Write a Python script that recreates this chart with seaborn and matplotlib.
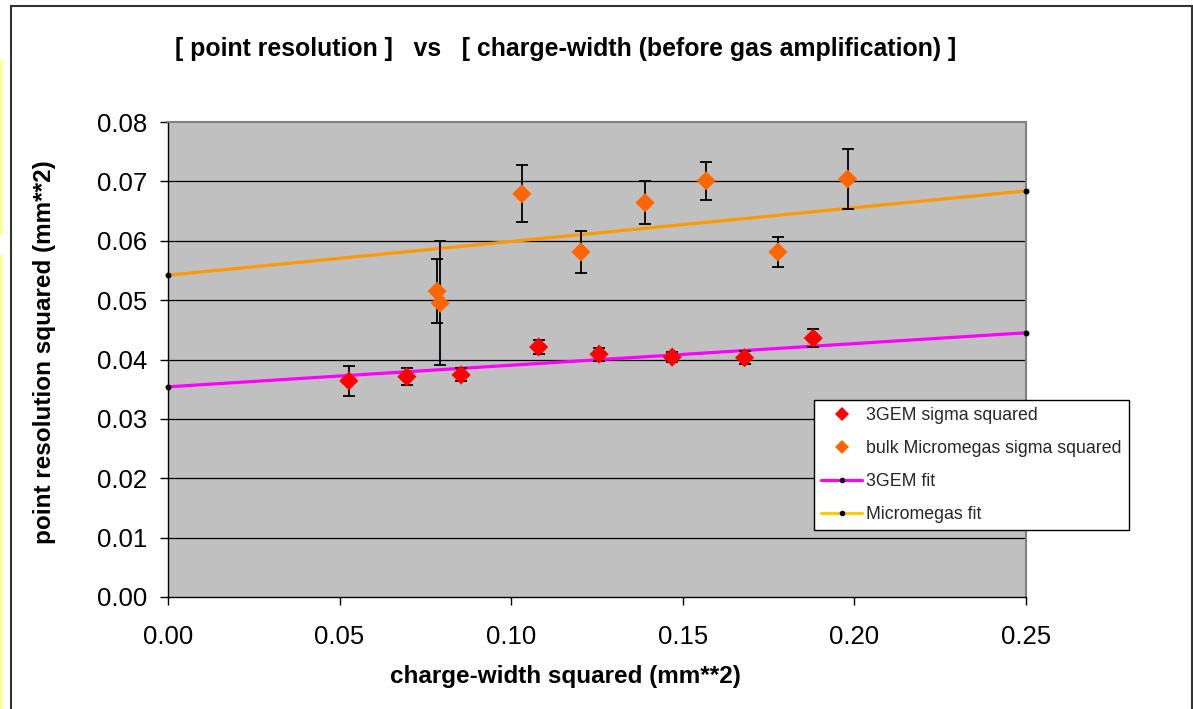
import numpy as np
import pandas as pd
import seaborn as sns
import matplotlib
matplotlib.use("Agg")
import matplotlib.pyplot as plt
from matplotlib.lines import Line2D
from matplotlib.patches import Rectangle
from matplotlib.ticker import FormatStrFormatter

# ---------------- data ----------------
gem_x = [0.0527, 0.0696, 0.0854, 0.1080, 0.1256, 0.1469, 0.1680, 0.1880]
gem_y = [0.0364, 0.0371, 0.0374, 0.0421, 0.0409, 0.0404, 0.0403, 0.0436]
gem_err = [0.0025, 0.0014, 0.0011, 0.0012, 0.0011, 0.0009, 0.0011, 0.0015]

mm_x = [0.0784, 0.0793, 0.1031, 0.1203, 0.1390, 0.1568, 0.1777, 0.1980]
mm_y = [0.0515, 0.0495, 0.0679, 0.0581, 0.0664, 0.0701, 0.0581, 0.0704]
mm_err = [0.0054, 0.0105, 0.0048, 0.0035, 0.0036, 0.0032, 0.0025, 0.0051]

fit_x = [0.0, 0.25]
gem_fit = [0.0354, 0.0445]
mm_fit = [0.0542, 0.0684]

x_ticks = [0.00, 0.05, 0.10, 0.15, 0.20, 0.25]
y_ticks = [0.00, 0.01, 0.02, 0.03, 0.04, 0.05, 0.06, 0.07, 0.08]

title = "[ point resolution ]   vs   [ charge-width (before gas amplification) ]"
xlabel = "charge-width squared (mm**2)"
ylabel = "point resolution squared (mm**2)"
labels = ["3GEM sigma squared", "bulk Micromegas sigma squared", "3GEM fit", "Micromegas fit"]

# ---------------- style ----------------
sns.set_theme(style="white")
plt.rcParams['font.family'] = ['Liberation Sans', 'DejaVu Sans']

W, H = 1193, 709
fig = plt.figure(figsize=(W / 100, H / 100), dpi=100)
fig.patch.set_facecolor("white")
ax = fig.add_axes([168 / W, 1 - 597 / H, (1026 - 168) / W, (597 - 122) / H])
ax.set_facecolor("#C0C0C0")

gem_df = pd.DataFrame({"x": gem_x, "y": gem_y})
mm_df = pd.DataFrame({"x": mm_x, "y": mm_y})
gfit_df = pd.DataFrame({"x": fit_x, "y": gem_fit})
mfit_df = pd.DataFrame({"x": fit_x, "y": mm_fit})

# grid lines
for yt in y_ticks[1:-1]:
    ax.axhline(yt, color="black", lw=0.9, zorder=1)

# fit lines
sns.lineplot(data=gfit_df, x="x", y="y", ax=ax, color="#FF00FF", lw=2.3,
             marker="o", markersize=3.5, markerfacecolor="black",
             markeredgecolor="black", zorder=3, clip_on=False)
sns.lineplot(data=mfit_df, x="x", y="y", ax=ax, color="#FF9900", lw=2.3,
             marker="o", markersize=3.5, markerfacecolor="black",
             markeredgecolor="black", zorder=3, clip_on=False)

# error bars
ax.errorbar(gem_x, gem_y, yerr=gem_err, fmt="none", ecolor="black",
            elinewidth=1.3, capsize=4.5, capthick=1.3, zorder=4)
ax.errorbar(mm_x, mm_y, yerr=mm_err, fmt="none", ecolor="black",
            elinewidth=1.3, capsize=4.5, capthick=1.3, zorder=4)

# points
sns.scatterplot(data=gem_df, x="x", y="y", ax=ax, marker="D", color="#FF0000",
                s=95, edgecolor="none", linewidth=0, zorder=5)
sns.scatterplot(data=mm_df, x="x", y="y", ax=ax, marker="D", color="#FF6600",
                s=95, edgecolor="none", linewidth=0, zorder=5)

ax.set_xlim(0, 0.25)
ax.set_ylim(0, 0.08)
ax.set_xticks(x_ticks)
ax.set_yticks(y_ticks)
ax.xaxis.set_major_formatter(FormatStrFormatter("%.2f"))
ax.yaxis.set_major_formatter(FormatStrFormatter("%.2f"))
ax.tick_params(axis="both", which="major", direction="out", length=6, width=1,
               color="black", labelsize=18.5, labelcolor="black",
               left=True, bottom=True)
ax.tick_params(axis="y", pad=9)
ax.tick_params(axis="x", pad=14)
ax.set_xlabel("")
ax.set_ylabel("")
for side in ["top", "right"]:
    ax.spines[side].set_visible(True)
    ax.spines[side].set_color("#808080")
    ax.spines[side].set_linewidth(1.5)
for side in ["left", "bottom"]:
    ax.spines[side].set_visible(True)
    ax.spines[side].set_color("black")
    ax.spines[side].set_linewidth(1.0)

# texts
fig.text(566 / W, 1 - 49 / H, title, ha="center", va="center",
         fontsize=17.9, fontweight="bold", color="black")
fig.text(565 / W, 1 - 676 / H, xlabel, ha="center", va="center",
         fontsize=17.5, fontweight="bold", color="black")
fig.text(45 / W, 1 - 352 / H, ylabel, ha="center", va="center", rotation=90,
         fontsize=17.5, fontweight="bold", color="black")

# legend
handles = [
    Line2D([], [], ls="none", marker="D", color="#FF0000", markersize=7, markeredgewidth=0),
    Line2D([], [], ls="none", marker="D", color="#FF6600", markersize=7, markeredgewidth=0),
    Line2D([], [], color="#FF00FF", lw=2.3, marker="o", markersize=3,
           markerfacecolor="black", markeredgecolor="black", markevery=[1]),
    Line2D([], [], color="#FFCC00", lw=2.3, marker="o", markersize=3,
           markerfacecolor="black", markeredgecolor="black", markevery=[1]),
]
for h in handles[2:]:
    h.set_xdata([0, 0.5, 1]); h.set_ydata([0, 0, 0])
leg = fig.legend(handles, labels, loc="upper left",
                 bbox_to_anchor=(814 / W, 1 - 400 / H), frameon=True,
                 fontsize=12.8, fancybox=False, framealpha=1, edgecolor="black",
                 borderpad=0.4, labelspacing=0.9, handlelength=2.3,
                 handletextpad=0.22, borderaxespad=0)
leg.get_frame().set_linewidth(1.0)

# outer border & yellow strips
fig.patches.append(Rectangle((11 / W, -0.05), (1192 - 11) / W, 1.05 - 6 / H,
                             transform=fig.transFigure, fill=False,
                             edgecolor="#333333", lw=1.5))
fig.patches.append(Rectangle((0, 1 - 235 / H), 3 / W, 175 / H,
                             transform=fig.transFigure, facecolor="#FFFF99",
                             edgecolor="none"))
fig.patches.append(Rectangle((0, 0), 3 / W, 1 - 255 / H,
                             transform=fig.transFigure, facecolor="#FFFF99",
                             edgecolor="none"))

fig.savefig("out.png", dpi=100)
